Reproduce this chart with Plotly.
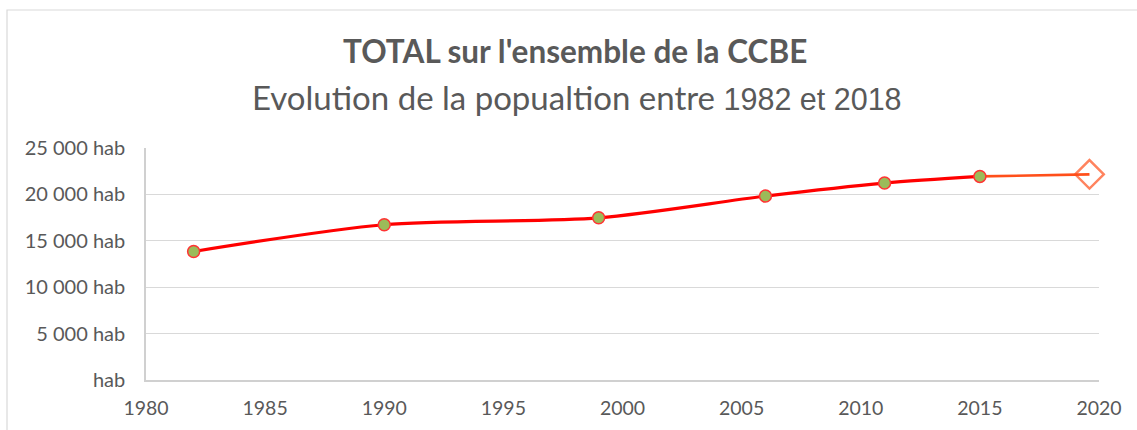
import plotly.graph_objects as go

years = [1982, 1990, 1999, 2006, 2011, 2015]
population = [13850, 16730, 17480, 19820, 21220, 21940]
proj_years = [2015, 2019.6]
proj_population = [21940, 22160]

y_tickvals = [0, 5000, 10000, 15000, 20000, 25000]
y_ticktext = ["hab", "5 000 hab", "10 000 hab", "15 000 hab", "20 000 hab", "25 000 hab"]
x_tickvals = [1980, 1985, 1990, 1995, 2000, 2005, 2010, 2015, 2020]

title_text = "TOTAL sur l'ensemble de la CCBE"
subtitle_a = "Evolution de la popualtion entre "
subtitle_b = "1982 et 2018"

W, H = 1137, 430
ml, mr, mt, mb = 146, 38, 148, 50
pw, ph = W - ml - mr, H - mt - mb

def px_x(x):
    return (x - ml) / pw

def px_y(y):
    return (H - mb - y) / ph

fig = go.Figure()

fig.add_trace(go.Scatter(
    x=proj_years, y=proj_population, mode="lines+markers",
    line=dict(color="#FF4F1A", width=2.6),
    marker=dict(symbol=["circle", "diamond-open"], size=[0, 22],
                color="#FF4F1A", line=dict(color="#FF4F1A", width=2.4)),
    cliponaxis=False, showlegend=False, hoverinfo="x+y",
))

fig.add_trace(go.Scatter(
    x=years, y=population, mode="lines+markers",
    line=dict(color="#FF0000", width=3.2, shape="spline", smoothing=0.8),
    marker=dict(symbol="circle", size=12, color="#9BBB59",
                line=dict(color="#FF3333", width=1.5)),
    cliponaxis=False, showlegend=False, hoverinfo="x+y",
))

fig.update_layout(
    width=W, height=H,
    margin=dict(l=ml, r=mr, t=mt, b=mb, autoexpand=False),
    paper_bgcolor="white", plot_bgcolor="white",
    font=dict(family="Lato, 'Open Sans', sans-serif", color="#595959", size=20),
    xaxis=dict(range=[1980, 2020], tickvals=x_tickvals, showgrid=False,
               showline=True, linecolor="#D0D0D0", linewidth=1.5, ticks="",
               zeroline=False, ticklabelstandoff=10,
               tickfont=dict(size=19.5, color="#595959")),
    yaxis=dict(range=[0, 25000], tickvals=y_tickvals, ticktext=y_ticktext,
               showgrid=True, gridcolor="#D9D9D9", gridwidth=1.2,
               showline=True, linecolor="#D0D0D0", linewidth=1.5, ticks="",
               zeroline=False, ticklabelstandoff=15,
               tickfont=dict(size=20, color="#595959")),
    shapes=[dict(type="rect", xref="paper", yref="paper",
                 x0=px_x(7), x1=px_x(1145), y0=px_y(440), y1=px_y(10),
                 line=dict(color="#D9D9D9", width=1.2), fillcolor="rgba(0,0,0,0)",
                 layer="below")],
    annotations=[
        dict(text="<b>" + title_text + "</b>", xref="paper", yref="paper",
             x=px_x(575), y=px_y(51), xanchor="center", yanchor="middle",
             showarrow=False, font=dict(size=31.5, color="#595959",
                                        family="Lato, 'Open Sans', sans-serif")),
        dict(text=subtitle_a + "<span style='font-family:Liberation Sans, Arial, sans-serif;font-size:30.5px'>" + subtitle_b + "</span>",
             xref="paper", yref="paper",
             x=px_x(577), y=px_y(97), xanchor="center", yanchor="middle",
             showarrow=False, font=dict(size=33, color="#595959",
                                        family="Lato, 'Open Sans', sans-serif")),
    ],
)

fig.write_html("out.html", config={"displayModeBar": False},
               post_script="document.body.style.margin='0';document.body.style.padding='0';")
